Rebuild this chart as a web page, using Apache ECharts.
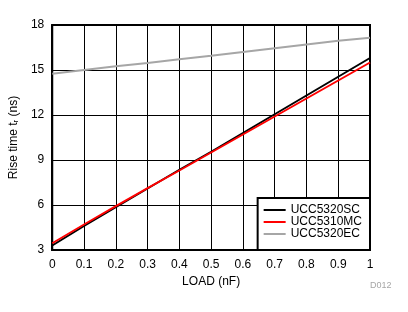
<!DOCTYPE html>
<html><head><meta charset="utf-8">
<script src="https://cdn.jsdelivr.net/npm/echarts@6/dist/echarts.min.js"></script>
<style>html,body{margin:0;padding:0;background:#fff}#c{width:408px;height:312px}</style>
</head><body><div id="c"></div>
<script>
const loads = [0, 0.1, 0.2, 0.3, 0.4, 0.5, 0.6, 0.7, 0.8, 0.9, 1];
const sc5320 = [3.3, 4.6, 5.85, 7.1, 8.35, 9.55, 10.8, 12.05, 13.3, 14.55, 15.8];
const mc5310 = [3.45, 4.7, 5.92, 7.12, 8.3, 9.5, 10.7, 11.9, 13.1, 14.3, 15.5];
const ec5320 = [14.75, 15.0, 15.25, 15.47, 15.72, 15.95, 16.2, 16.45, 16.7, 16.95, 17.15];
const names = ['UCC5320SC', 'UCC5310MC', 'UCC5320EC'];
const colors = ['#000000', '#ff0000', '#a6a6a6'];
const F = 'Liberation Sans, Arial, sans-serif';
const chart = echarts.init(document.getElementById('c'));
const pairs = a => loads.map((x, i) => [x, a[i]]);
chart.setOption({
  animation: false,
  grid: {left: 52, right: 38, top: 25, bottom: 62, show: true, borderColor: '#000', borderWidth: 2},
  xAxis: {type: 'value', min: 0, max: 1, interval: 0.1,
    name: 'LOAD (nF)', nameLocation: 'middle', nameGap: 25,
    nameTextStyle: {fontFamily: F, fontSize: 12, color: '#000'},
    axisLine: {show: true, lineStyle: {color: '#000', width: 2}},
    axisTick: {show: false},
    axisLabel: {fontFamily: F, fontSize: 12, color: '#000', margin: 9, formatter: v => String(+v.toFixed(1))},
    splitLine: {show: true, lineStyle: {color: '#000', width: 1}}},
  yAxis: {type: 'value', min: 3, max: 18, interval: 3,
    name: '{a|Rise time t}{s|r}{a| (ns)}', nameLocation: 'middle', nameGap: 22,
    nameTextStyle: {fontFamily: F, fontSize: 12, color: '#000',
      rich: {a: {fontFamily: F, fontSize: 12, color: '#000'}, s: {fontFamily: F, fontSize: 8, color: '#000', verticalAlign: 'bottom', padding: [4, 0, 0, 0]}}},
    axisLine: {show: true, lineStyle: {color: '#000', width: 2}},
    axisTick: {show: false},
    axisLabel: {fontFamily: F, fontSize: 12, color: '#000', margin: 8},
    splitLine: {show: true, lineStyle: {color: '#000', width: 1}}},
  legend: {orient: 'vertical', right: 38, bottom: 62,
    backgroundColor: '#fff', borderColor: '#000', borderWidth: 2,
    padding: [6, 8, 10, 6], itemGap: 0, itemWidth: 22, itemHeight: 14,
    textStyle: {fontFamily: F, fontSize: 12, color: '#000', padding: [0, 0, 0, 0]},
    data: names.map(n => ({name: n, icon: 'path://M0,6 L22,6 L22,8 L0,8 Z'}))},
  series: [
    {name: names[0], type: 'line', data: pairs(sc5320), symbol: 'none', lineStyle: {color: colors[0], width: 2}, itemStyle: {color: colors[0]}},
    {name: names[1], type: 'line', data: pairs(mc5310), symbol: 'none', lineStyle: {color: colors[1], width: 2}, itemStyle: {color: colors[1]}},
    {name: names[2], type: 'line', data: pairs(ec5320), symbol: 'none', lineStyle: {color: colors[2], width: 2}, itemStyle: {color: colors[2]}}
  ],
  graphic: [{type: 'text', left: 370, top: 281, style: {text: 'D012', fontFamily: F, fontSize: 9, fill: '#a6a6a6'}}]
});
</script></body></html>
